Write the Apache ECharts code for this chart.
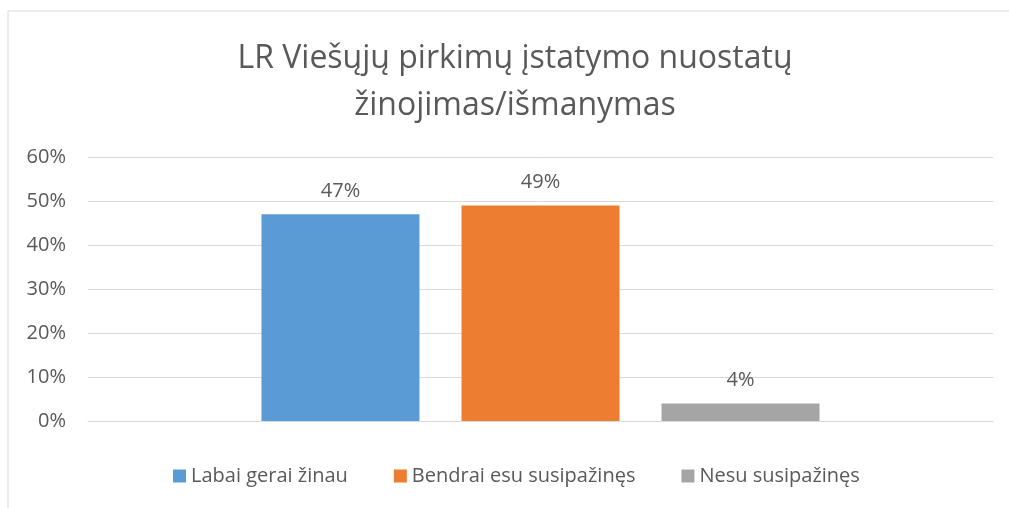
<!DOCTYPE html>
<html>
<head>
<meta charset="utf-8">
<script src="https://cdn.jsdelivr.net/npm/echarts@6/dist/echarts.min.js"></script>
<style>
  html, body { margin: 0; padding: 0; background: #fff; }
  #chart { width: 1009px; height: 508px; }
</style>
</head>
<body>
<div id="chart"></div>
<script>
// duomenys
const titleText = "LR Viešųjų pirkimų įstatymo nuostatų\nžinojimas/išmanymas";
const categories = [""];
const seriesNames = ["Labai gerai žinau", "Bendrai esu susipažinęs", "Nesu susipažinęs"];
const seriesValues = [47, 49, 4];
const seriesColors = ["#5b9bd5", "#ed7d31", "#a5a5a5"];

const fontFamily = "'Open Sans', 'Noto Sans', sans-serif";
const textColor = "#595959";

const chart = echarts.init(document.getElementById("chart"));

const series = seriesNames.map((name, i) => ({
  name: name,
  type: "bar",
  data: [seriesValues[i]],
  barWidth: 158,
  barGap: "26.6%",
  itemStyle: { color: seriesColors[i] },
  label: {
    show: true,
    position: "top",
    distance: 13,
    formatter: "{c}%",
    fontSize: 20,
    fontFamily: fontFamily,
    color: textColor
  }
}));

chart.setOption({
  backgroundColor: "#fff",
  animation: false,
  title: {
    text: titleText,
    left: 510,
    top: 30,
    textAlign: "center",
    textStyle: {
      fontSize: 32,
      fontWeight: "normal",
      fontFamily: fontFamily,
      color: textColor,
      lineHeight: 47
    }
  },
  legend: {
    top: 461,
    left: 168,
    itemWidth: 13,
    itemHeight: 13,
    itemGap: 46,
    icon: "rect",
    textStyle: {
      fontSize: 20,
      fontFamily: fontFamily,
      color: textColor
    },
    data: seriesNames
  },
  grid: {
    left: 88,
    right: 16,
    top: 157,
    bottom: 87
  },
  xAxis: {
    type: "category",
    data: categories,
    axisLine: { show: true, lineStyle: { color: "#d9d9d9" } },
    axisTick: { show: false },
    axisLabel: { show: false }
  },
  yAxis: {
    type: "value",
    min: 0,
    max: 60,
    interval: 10,
    axisLine: { show: false },
    axisTick: { show: false },
    axisLabel: {
      formatter: "{value}%",
      fontSize: 20,
      fontFamily: fontFamily,
      color: textColor,
      margin: 22
    },
    splitLine: { lineStyle: { color: "#d9d9d9", width: 1 } }
  },
  graphic: [{
    type: "rect",
    shape: { x: 8, y: 11, width: 1100, height: 600 },
    style: { fill: null, stroke: "#d9d9d9", lineWidth: 1 },
    silent: true
  }],
  series: series
});
</script>
</body>
</html>
